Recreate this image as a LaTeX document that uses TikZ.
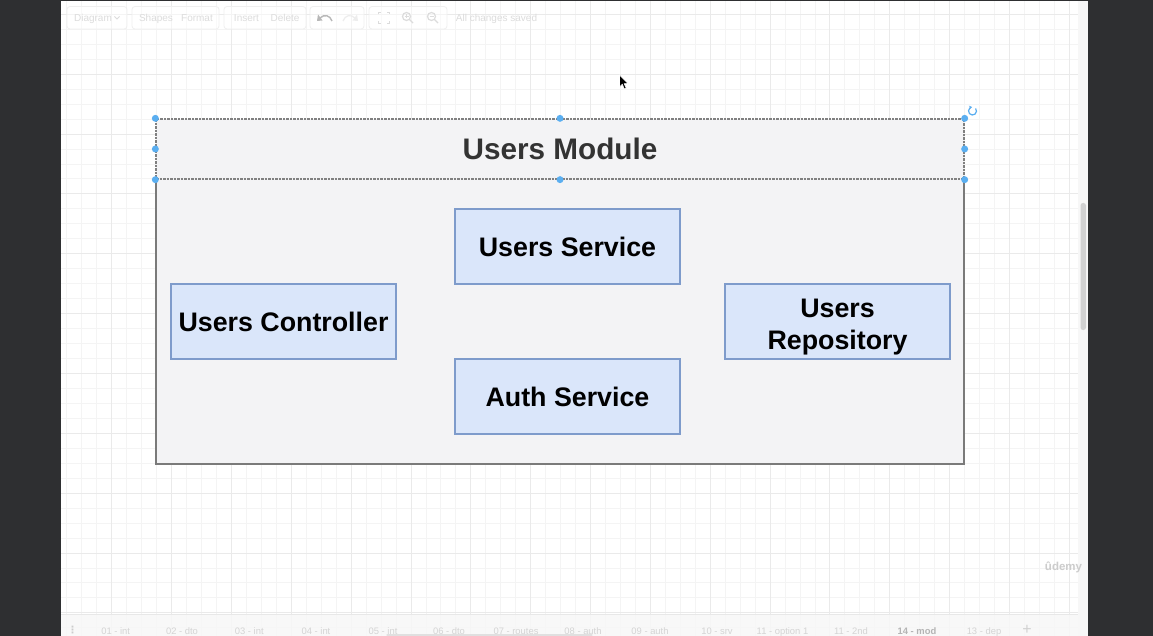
\documentclass[tikz,border=0pt]{standalone}
\usepackage{fontspec}
\setmainfont{Liberation Sans}
\newfontfamily\dejavu{DejaVu Sans}
\usetikzlibrary{arrows.meta}
\definecolor{darkbg}{HTML}{2E2F31}
\definecolor{gridminor}{HTML}{F4F4F4}
\definecolor{gridmajor}{HTML}{EAEAEA}
\definecolor{containerfill}{HTML}{F3F3F5}
\definecolor{containerline}{HTML}{7A7A7A}
\definecolor{boxfill}{HTML}{DAE6FA}
\definecolor{boxline}{HTML}{7E9BCB}
\definecolor{headtext}{HTML}{333333}
\definecolor{handleblue}{HTML}{5AAEF0}
\definecolor{faint}{HTML}{DCDCDC}
\definecolor{faintline}{HTML}{EFEFEF}
\definecolor{tabtext}{HTML}{D4D4D4}
\definecolor{tabactive}{HTML}{B4B4B4}
\begin{document}
\begin{tikzpicture}[x=1pt,y=-1pt,
  modbox/.style={draw=boxline, fill=boxfill, line width=1.3pt, minimum width=225pt,
    minimum height=75pt, inner sep=0pt, align=center,
    font=\fontsize{26.8}{32.3}\selectfont\bfseries},
  handle/.style={circle, fill=handleblue, inner sep=0pt, minimum size=7pt},
  tbtext/.style={text=faint, font=\fontsize{10}{12}\selectfont, inner sep=0pt,
    text height=7.2pt, text depth=0pt},
  tbbtn/.style={draw=faintline, fill=white, fill opacity=0.5, rounded corners=3pt, line width=0.8pt},
  tabtxt/.style={text=tabtext, font=\fontsize{9.4}{11}\selectfont, inner sep=0pt,
    text height=6.8pt, text depth=0pt},
  icon/.style={draw=faint, line width=1.2pt}
]
\useasboundingbox (0,0) rectangle (1153,636);
% background
\fill[darkbg] (0,0) rectangle (1153,636);
\fill[white] (61,1.5) rectangle (1088,636);
% grid
\foreach \i in {0,...,67} {
  \pgfmathsetmacro\xx{66.8+14.9625*\i}
  \draw[gridminor, line width=0.8pt] (\xx,1.5) -- (\xx,636);
}
\foreach \i in {0,...,41} {
  \pgfmathsetmacro\yy{14.3+14.9625*\i}
  \draw[gridminor, line width=0.8pt] (61,\yy) -- (1078,\yy);
}
\foreach \i in {0,...,16} {
  \pgfmathsetmacro\xx{111.7+59.85*\i}
  \draw[gridmajor, line width=0.9pt] (\xx,1.5) -- (\xx,636);
}
\foreach \i in {0,...,10} {
  \pgfmathsetmacro\yy{14.3+59.85*\i}
  \draw[gridmajor, line width=0.9pt] (61,\yy) -- (1078,\yy);
}
% right scroll strip
\fill[white!97!black] (1078,1.5) rectangle (1088,614);
\fill[white!82!black, rounded corners=2.5pt] (1080.5,203) rectangle (1086,330);

% toolbar
\draw[tbbtn] (67,6.5) rectangle (127,29);
\draw[tbbtn] (132,6.5) rectangle (219,29);
\draw[tbbtn] (224,6.5) rectangle (306,29);
\draw[tbbtn] (310,6.5) rectangle (364,29);
\draw[tbbtn] (369,6.5) rectangle (447,29);
\node[tbtext] (tbdiagram) at (93,18) {Diagram};
\draw[icon, line width=0.8pt] (114.5,16.5) -- (117,19) -- (119.5,16.5);
\node[tbtext] (tbshapes) at (156,18) {Shapes};
\node[tbtext] (tbformat) at (197,18) {Format};
\node[tbtext] (tbinsert) at (246.5,18) {Insert};
\node[tbtext] (tbdelete) at (285,18) {Delete};
\node[tbtext] (tbsaved) at (496.5,18) {All changes saved};
% undo / redo
\draw[icon, draw=white!72!black, line width=1.4pt] (332,21) .. controls (330,15) and (324,14) .. (320,18);
\fill[white!72!black] (318,14.5) -- (322.5,20.5) -- (317,21) -- cycle;
\draw[icon, draw=white!93!black] (343,21) .. controls (345,15) and (351,14) .. (355,18);
\fill[white!93!black] (357,14.5) -- (352.5,20.5) -- (358,21) -- cycle;
% fullscreen
\draw[icon] (378.5,14.5) -- (378.5,12.5) -- (381,12.5);
\draw[icon] (387,12.5) -- (389.5,12.5) -- (389.5,14.5);
\draw[icon] (378.5,21.5) -- (378.5,23.5) -- (381,23.5);
\draw[icon] (387,23.5) -- (389.5,23.5) -- (389.5,21.5);
% zoom in / out
\draw[icon] (406.5,16.5) circle[radius=4];
\draw[icon] (409.5,19.5) -- (413,23);
\draw[icon, line width=0.9pt] (404.5,16.5) -- (408.5,16.5) (406.5,14.5) -- (406.5,18.5);
\draw[icon] (431.5,16.5) circle[radius=4];
\draw[icon] (434.5,19.5) -- (438,23);
\draw[icon, line width=0.9pt] (429.5,16.5) -- (433.5,16.5);

% container body (solid sides) and header (selected, dashed)
\node[fill=containerfill, minimum width=808pt, minimum height=285pt, inner sep=0pt]
  (module) at (560,321.5) {};
\draw[containerline, line width=1.5pt]
  (module.north west) -- (module.south west) -- (module.south east) -- (module.north east);
\node[draw=white!50!black, fill=containerfill, dash pattern=on 2.5pt off 1pt, line width=1.3pt,
  minimum width=808pt, minimum height=60pt, inner sep=0pt, text=headtext,
  font=\fontsize{29.7}{34}\selectfont\bfseries] (header) at (560,149) {Users Module};

% inner boxes
\node[modbox] (svc) at (567.5,246.5) {Users Service};
\node[modbox] (ctrl) at (283.5,321.5) {Users Controller};
\node[modbox] (auth) at (567.5,396.5) {Auth Service};
\node[modbox] (repo) at (837.5,321.5) {\rule{0pt}{30pt}Users\\Repository};

% selection handles
\node[handle] (h1) at (header.north west) {};
\node[handle] (h2) at (header.north) {};
\node[handle] (h3) at (header.north east) {};
\node[handle] (h4) at (header.west) {};
\node[handle] (h5) at (header.east) {};
\node[handle] (h6) at (header.south west) {};
\node[handle] (h7) at (header.south) {};
\node[handle] (h8) at (header.south east) {};
% rotate handle
\coordinate (rot) at (972.5,111);
\draw[handleblue, line width=1.2pt, -{Stealth[length=2.6pt,width=3.8pt]}]
  ([shift={(-40:4)}]rot) arc[start angle=-40, end angle=260, radius=4];

% cursor
\filldraw[fill=black, draw=white, line width=0.6pt]
  (619.5,75) -- (619.5,87) -- (622.3,84.3) -- (624.3,89) -- (626.2,88.2)
  -- (624.2,83.6) -- (628,83.6) -- cycle;

% watermark
\node[text=white!80!black, font=\fontsize{11.5}{13}\selectfont\bfseries, inner sep=0pt]
  (udemy) at (1063.5,567) {ûdemy};

% bottom tab bar
\fill[white!97!black, fill opacity=0.85] (61,614) rectangle (1078,636);
\draw[white!91!black, line width=0.8pt] (61,614) -- (1078,614);
\fill[white!97!black] (1078,614) rectangle (1088,636);
\node[text=white!80!black, font=\dejavu\fontsize{10}{12}\selectfont\bfseries, inner sep=0pt] (tabmenu) at (72.5,630.5) {⋮};
\node[tabtxt] (t1) at (115.7,631.5) {01 - int};
\node[tabtxt] (t2) at (182,631.5) {02 - dto};
\node[tabtxt] (t3) at (249.3,631.5) {03 - int};
\node[tabtxt] (t4) at (316,631.5) {04 - int};
\node[tabtxt] (t5) at (383,631.5) {05 - int};
\node[tabtxt] (t6) at (449,631.5) {06 - dto};
\node[tabtxt] (t7) at (516,631.5) {07 - routes};
\node[tabtxt] (t8) at (583,631.5) {08 - auth};
\node[tabtxt] (t9) at (650,631.5) {09 - auth};
\node[tabtxt] (t10) at (717,631.5) {10 - srv};
\node[tabtxt] (t11) at (782.5,631.5) {11 - option 1};
\node[tabtxt] (t12) at (851,631.5) {11 - 2nd};
\node[tabtxt, text=tabactive, font=\fontsize{9.4}{11}\selectfont\bfseries] (t13) at (917,631.5) {14 - mod};
\node[tabtxt] (t14) at (984,631.5) {13 - dep};
\node[text=white!82!black, font=\fontsize{16}{16}\selectfont, inner sep=0pt] (tplus) at (1027,630) {+};
\draw[white!88!black, line width=1.2pt, line cap=round] (387,635) -- (592,635);
\end{tikzpicture}
\end{document}
